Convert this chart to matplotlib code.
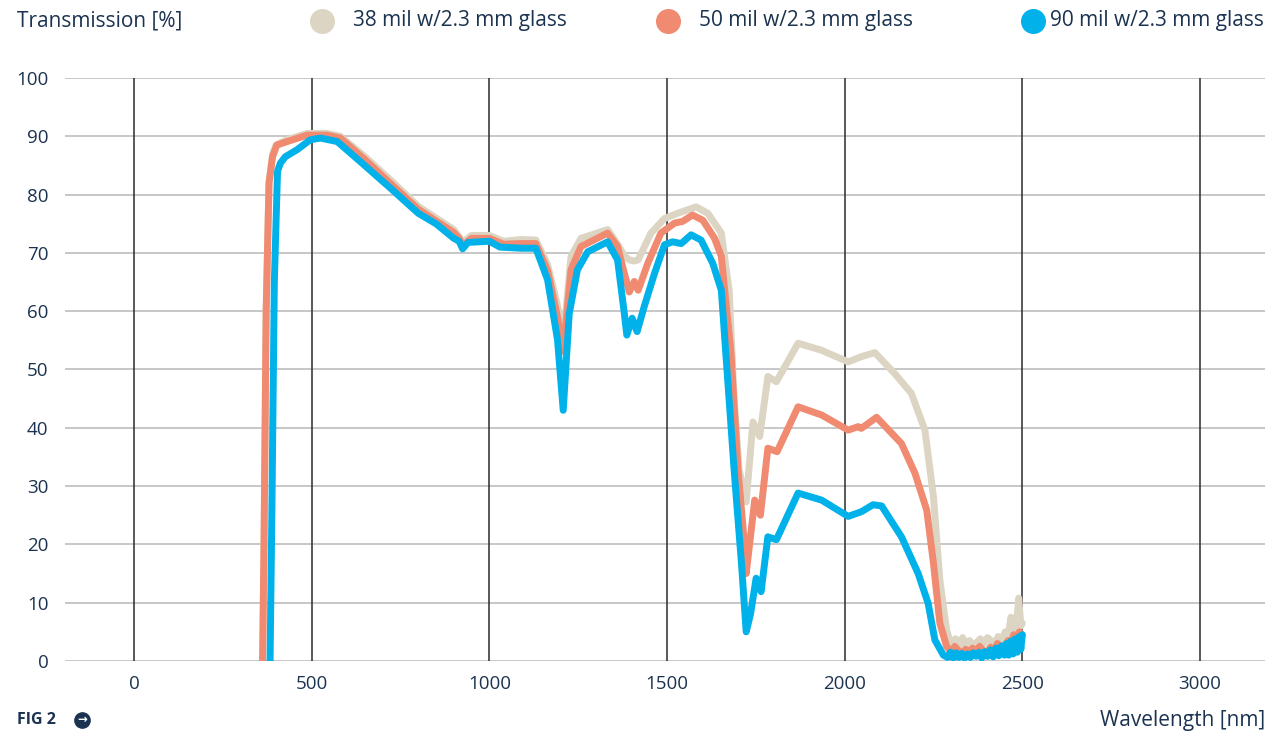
import matplotlib.pyplot as plt
from matplotlib.lines import Line2D

plt.rcParams['font.family'] = ['Open Sans', 'DejaVu Sans']

# wavelength [nm] and transmission [%]
wl_38 = [362, 366, 372, 380, 390, 400, 430, 487, 543, 581, 650, 722, 800, 900, 915, 925, 950, 1000,
         1040, 1089, 1131, 1164, 1192, 1208, 1230, 1258, 1333, 1361, 1380, 1394, 1408, 1419, 1455,
         1493, 1530, 1582, 1615, 1653, 1675, 1689, 1703, 1723, 1742, 1761, 1784, 1808, 1869, 1935,
         2010, 2047, 2085, 2141, 2188, 2226, 2250, 2268, 2287, 2301, 2312, 2322, 2332, 2342, 2352,
         2362, 2372, 2382, 2392, 2402, 2412, 2422, 2432, 2442, 2452, 2460, 2468, 2476, 2484, 2490,
         2496, 2500]
tr_38 = [0, 20, 60, 82, 87, 88.5, 89.4, 90.5, 90.5, 90.0, 86.5, 82.5, 78, 74, 72.8, 71.8, 73, 73,
         72, 72.3, 72.2, 68, 61, 55, 69.4, 72.5, 74, 71.5, 69.5, 68.8, 68.6, 68.8, 73.4,
         75.9, 76.8, 77.9, 76.8, 73.4, 63.6, 44.8, 32.8, 27.3, 41.0, 38.5, 48.8, 47.9, 54.5, 53.3,
         51.3, 52.2, 52.9, 49.3, 45.9, 39.6, 28.2, 13.9, 5.3, 2.5, 3.8, 2.5, 4.0, 2.8, 3.5,
         2.5, 3.2, 3.8, 3.0, 4.0, 3.5, 3.0, 4.2, 3.6, 5.0, 4.0, 7.5, 5.0, 6.5, 10.8,
         6.0, 6.5]

wl_50 = [362, 366, 372, 380, 390, 402, 431, 487, 543, 581, 650, 722, 800, 900, 915, 925, 950, 1000,
         1040, 1089, 1131, 1164, 1192, 1208, 1230, 1258, 1333, 1361, 1380, 1394, 1408, 1419, 1446,
         1483, 1521, 1544, 1572, 1601, 1634, 1653, 1680, 1700, 1717, 1723, 1747, 1763, 1784, 1810,
         1869, 1935, 2010, 2038, 2047, 2090, 2160, 2198, 2231, 2250, 2268, 2287, 2300, 2310, 2320,
         2330, 2340, 2350, 2360, 2370, 2380, 2390, 2400, 2410, 2420, 2430, 2440, 2450, 2460, 2468,
         2476, 2484, 2492, 2500]
tr_50 = [0, 20, 60, 82, 86.5, 88.5, 89.1, 90.2, 90.2, 89.7, 86, 81.9, 77.5, 73.5, 72.5, 71.3, 72.5, 72.5,
         71.5, 71.6, 71.6, 67, 59, 53.1, 67.1, 71.1, 73.4, 71.1, 66.5, 63.3, 65.1, 63.6, 68.2,
         73.4, 75.1, 75.4, 76.5, 75.6, 72.5, 69.4, 53, 32.8, 20.8, 15.0, 27.6, 25.0, 36.5, 35.9,
         43.6, 42.2, 39.6, 40.2, 39.9, 41.8, 37.3, 32.2, 25.9, 16.8, 6.5, 2.5, 1.5, 2.5, 1.8,
         1.2, 2.0, 1.5, 2.2, 1.6, 2.5, 1.8, 1.2, 2.4, 1.6, 3.0, 2.0, 2.5, 3.5, 3.0,
         4.5, 3.8, 5.0, 4.5]

wl_90 = [383, 388, 395, 404, 412, 426, 459, 496, 525, 572, 640, 722, 800, 850, 900, 915, 925, 940,
         1000, 1030, 1089, 1131, 1164, 1192, 1208, 1225, 1248, 1277, 1333, 1361, 1380, 1387, 1402,
         1416, 1436, 1465, 1493, 1516, 1540, 1568, 1596, 1629, 1653, 1667, 1689, 1709, 1723, 1735,
         1751, 1765, 1784, 1808, 1869, 1935, 2010, 2047, 2080, 2104, 2160, 2207, 2235, 2254, 2278,
         2290, 2298, 2306, 2314, 2322, 2330, 2338, 2346, 2354, 2362, 2370, 2378, 2386, 2394, 2402,
         2410, 2418, 2426, 2434, 2442, 2450, 2456, 2462, 2468, 2474, 2480, 2486, 2492, 2496, 2500]
tr_90 = [0, 25, 65, 84, 85.4, 86.5, 87.7, 89.4, 89.7, 89.1, 85.5, 81.1, 76.8, 75, 72.5, 72, 70.7, 71.8,
         72, 71, 70.8, 70.8, 65.4, 55.1, 43.0, 59.6, 67.1, 70.2, 71.9, 68.8, 59.6, 55.9, 58.8,
         56.5, 60.8, 66.5, 71.4, 71.9, 71.6, 73.1, 72.2, 68.2, 63.6, 51.6, 32.8, 17.3, 5.0, 8.0,
         14.2, 11.9, 21.3, 20.8, 28.8, 27.6, 24.8, 25.6, 26.8, 26.6, 21.3, 15.0, 9.9, 3.6, 1.0,
         0.6, 1.5, 0.5, 1.4, 0.6, 1.3, 0.5, 1.2, 0.6, 1.4, 0.8, 1.5, 0.5, 1.6, 0.8,
         1.9, 0.7, 2.2, 0.9, 2.6, 1.0, 3.0, 1.0, 3.4, 1.2, 3.8, 1.5, 4.2, 2.0, 4.5]

labels = ['38 mil w/2.3 mm glass', '50 mil w/2.3 mm glass', '90 mil w/2.3 mm glass']
colors = ['#DDD5C3', '#F08A70', '#00B1EA']
navy = '#1B3350'

fig = plt.figure(figsize=(12.68, 7.34), dpi=100)
ax = fig.add_axes([0.0513, 0.0995, 0.9463, 0.7942])

for i, (x, y) in enumerate([(wl_38, tr_38), (wl_50, tr_50), (wl_90, tr_90)]):
    ax.plot(x, y, color=colors[i], linewidth=5.0, solid_joinstyle='round',
            solid_capstyle='round', zorder=3 + i)

ax.set_xlim(-194, 3183)
ax.set_ylim(0, 100)
ax.set_xticks(range(0, 3001, 500))
ax.set_yticks(range(0, 101, 10))
for v in range(0, 101, 10):
    ax.axhline(v, color='#BDBDBD', linewidth=1.2, zorder=1)
for v in range(0, 3001, 500):
    ax.axvline(v, color='#2B2B2B', linewidth=1.1, zorder=2)

for s in ax.spines.values():
    s.set_visible(False)
ax.tick_params(length=0, labelsize=13.5, colors=navy, pad=12)
ax.tick_params(axis='x', pad=10)

fig.text(0.0134, 0.972, 'Transmission [%]', fontsize=15, color=navy, va='center')
legend_x = [0.254, 0.527, 0.815]
for lx, lab, c in zip(legend_x, labels, colors):
    fig.add_artist(Line2D([lx], [0.972], marker='o', markersize=17, color=c,
                          linestyle='none', transform=fig.transFigure))
    fig.text(lx + 0.024 if lx < 0.8 else lx + 0.013, 0.972, lab, fontsize=15,
             color=navy, va='center')

fig.text(0.9976, 0.019, 'Wavelength [nm]', fontsize=15, color=navy, ha='right', va='center')
fig.text(0.0134, 0.019, 'FIG 2', fontsize=11.5, color=navy, fontweight='bold', va='center')
fig.add_artist(Line2D([0.0647], [0.019], marker='o', markersize=11, color=navy,
                      linestyle='none', transform=fig.transFigure))
fig.text(0.0647, 0.0195, '\u2192', fontsize=8.5, color='white', fontweight='bold',
         ha='center', va='center', family='DejaVu Sans')

fig.savefig('out.png', dpi=100)
